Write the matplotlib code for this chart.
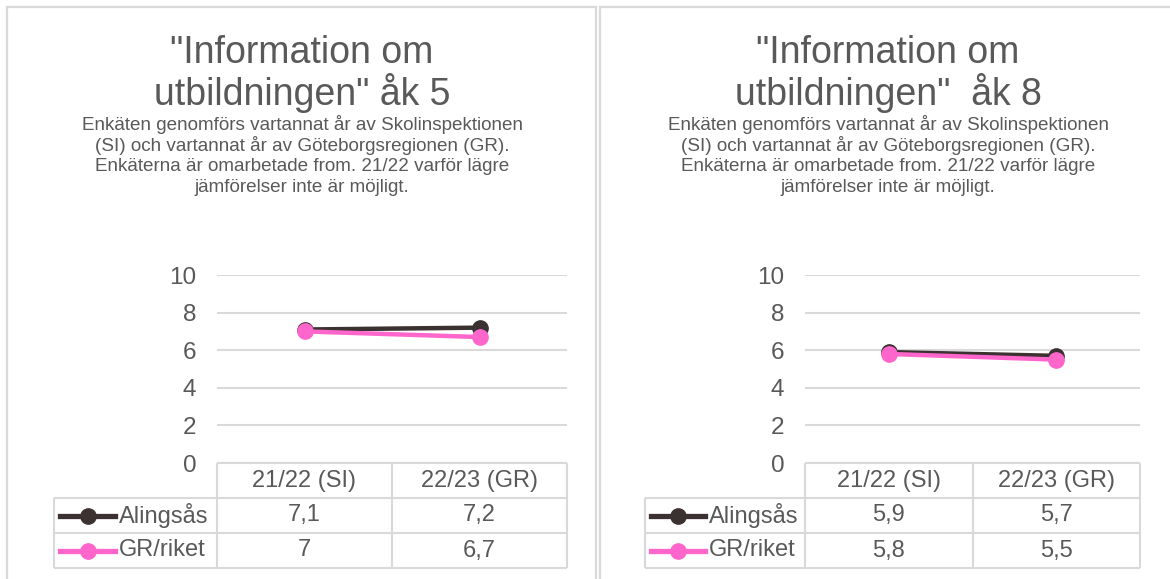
import matplotlib
matplotlib.use("Agg")
import matplotlib.pyplot as plt
from matplotlib.lines import Line2D
from matplotlib.patches import Rectangle

# ---------------- data ----------------
categories = ["21/22 (SI)", "22/23 (GR)"]
series_names = ["Alingsås", "GR/riket"]
ak5_alingsas = [7.1, 7.2]
ak5_gr = [7.0, 6.7]
ak8_alingsas = [5.9, 5.7]
ak8_gr = [5.8, 5.5]
yticks = [0, 2, 4, 6, 8, 10]
titles = ['"Information om\nutbildningen" åk 5',
          '"Information om\nutbildningen"  åk 8']
subtitle = ("Enkäten genomförs vartannat år av Skolinspektionen\n"
            "(SI) och vartannat år av Göteborgsregionen (GR).\n"
            "Enkäterna är omarbetade from. 21/22 varför lägre\n"
            "jämförelser inte är möjligt.")

# ---------------- style ----------------
plt.rcParams['font.family'] = ['Liberation Sans', 'DejaVu Sans']
TXT = "#595959"
GRID = "#d9d9d9"
DARK = "#3a3130"
PINK = "#ff66cc"
colors = [DARK, PINK]

W, H = 1170, 579
fig = plt.figure(figsize=(W / 100, H / 100), dpi=100)


def fx(px):
    return px / W


def fy(py):
    return 1 - py / H


def fmt(v):
    return f"{v:g}".replace(".", ",")


def hline(x0, x1, y, lw=1.5, color=GRID):
    fig.add_artist(Line2D([fx(x0), fx(x1)], [fy(y), fy(y)], color=color,
                          lw=lw, transform=fig.transFigure, solid_capstyle='butt'))


def vline(x, y0, y1, lw=1.5, color=GRID):
    fig.add_artist(Line2D([fx(x), fx(x)], [fy(y0), fy(y1)], color=color,
                          lw=lw, transform=fig.transFigure, solid_capstyle='butt'))


panels = [
    dict(box=(7, 596), cx=302, plot=(217, 567), leg_l=54, leg_line=(60, 115),
         leg_txt=119, series=[ak5_alingsas, ak5_gr], title=titles[0]),
    dict(box=(600, 1190), cx=888, plot=(805, 1140), leg_l=645, leg_line=(651, 705),
         leg_txt=709, series=[ak8_alingsas, ak8_gr], title=titles[1]),
]

top_y, zero_y = 275, 463
row_y = [463, 498, 533, 568]

for p in panels:
    # panel border
    bx0, bx1 = p['box']
    fig.add_artist(Rectangle((fx(bx0), fy(H + 20)), fx(bx1) - fx(bx0), fy(7) - fy(H + 20),
                             transform=fig.transFigure, fill=False, ec=GRID, lw=1.6))

    # titles
    tlines = p['title'].split("\n")
    for i, ln in enumerate(tlines):
        fig.text(fx(p['cx']), fy(63 + 42 * i), ln, ha='center', va='baseline',
                 fontsize=27, color=TXT)
    for i, ln in enumerate(subtitle.split("\n")):
        fig.text(fx(p['cx']), fy(130 + 20.7 * i), ln, ha='center', va='baseline',
                 fontsize=13.6, color=TXT)

    # plot axes
    pl, pr = p['plot']
    ax = fig.add_axes([fx(pl), fy(zero_y), fx(pr) - fx(pl), fy(top_y) - fy(zero_y)])
    ax.set_xlim(-0.5, len(categories) - 0.5)
    ax.set_ylim(0, 10)
    ax.set_yticks(yticks)
    ax.set_yticklabels([str(t) for t in yticks])
    ax.set_xticks([])
    for s in ax.spines.values():
        s.set_visible(False)
    ax.tick_params(axis='y', length=0, pad=15, labelsize=17.5, labelcolor=TXT)
    ax.yaxis.grid(True, color=GRID, lw=1.5)
    ax.set_axisbelow(True)
    ax.patch.set_alpha(0)
    xs = list(range(len(categories)))
    for vals, col in zip(p['series'], colors):
        ax.plot(xs, vals, color=col, lw=3.2, marker='o', markersize=11,
                clip_on=False, zorder=3)

    # table
    colw = (pr - pl) / len(categories)
    col_edges = [pl + colw * i for i in range(len(categories) + 1)]
    hline(pl, pr, row_y[0])
    for i, cat in enumerate(categories):
        fig.text(fx(col_edges[i] + colw / 2), fy((row_y[0] + row_y[1]) / 2), cat,
                 ha='center', va='center', fontsize=17, color=TXT)
    for y in row_y[1:]:
        hline(p['leg_l'], pr, y)
    vline(p['leg_l'], row_y[1], row_y[3])
    for x in col_edges:
        vline(x, row_y[0], row_y[3])
    for r, (name, vals, col) in enumerate(zip(series_names, p['series'], colors)):
        yc = (row_y[r + 1] + row_y[r + 2]) / 2
        l0, l1 = p['leg_line']
        fig.add_artist(Line2D([fx(l0), fx(l1)], [fy(yc), fy(yc)], color=col, lw=3.8,
                              transform=fig.transFigure))
        fig.add_artist(Line2D([fx((l0 + l1) / 2)], [fy(yc)], color=col, marker='o',
                              markersize=11, transform=fig.transFigure))
        fig.text(fx(p['leg_txt']), fy(yc), name, ha='left', va='center',
                 fontsize=17, color=TXT)
        for i, v in enumerate(vals):
            fig.text(fx(col_edges[i] + colw / 2), fy(yc), fmt(v), ha='center',
                     va='center', fontsize=17, color=TXT)

fig.savefig("out.png", dpi=100, facecolor='white')
